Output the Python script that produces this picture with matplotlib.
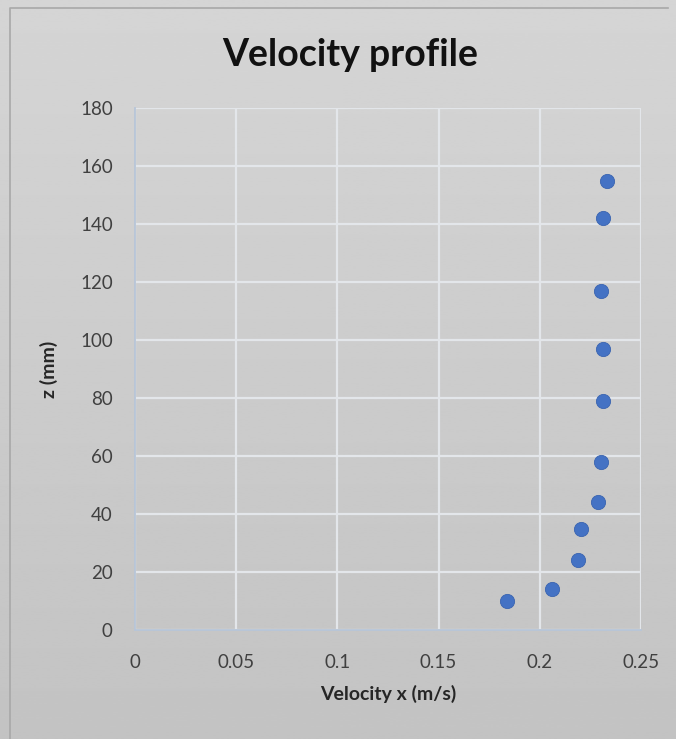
import matplotlib
matplotlib.use("Agg")
import matplotlib.pyplot as plt
import numpy as np

velocity = [0.184, 0.206, 0.219, 0.2205, 0.229, 0.230, 0.231, 0.231, 0.230, 0.231, 0.233]
z_mm = [10, 14, 24, 35, 44, 58, 79, 97, 117, 142, 155]

x_ticks = [0, 0.05, 0.1, 0.15, 0.2, 0.25]
x_labels = ["0", "0.05", "0.1", "0.15", "0.2", "0.25"]
y_ticks = [0, 20, 40, 60, 80, 100, 120, 140, 160, 180]

plt.rcParams["font.family"] = ["Lato", "DejaVu Sans"]

fig = plt.figure(figsize=(6.76, 7.39), dpi=100)

# gradient background
bg = fig.add_axes([0, 0, 1, 1], zorder=-10)
grad = np.linspace(0.835, 0.765, 256).reshape(-1, 1)
bg.imshow(grad, aspect="auto", cmap="gray", vmin=0, vmax=1, extent=[0, 1, 0, 1])
bg.plot([10 / 676, 10 / 676, 668 / 676], [0, 1 - 8 / 739, 1 - 8 / 739],
        color="#a8a8a8", lw=1.2)
bg.set_xlim(0, 1)
bg.set_ylim(0, 1)
bg.axis("off")

ax = fig.add_axes([135 / 676, 109 / 739, 506 / 676, 522 / 739])
ax.patch.set_alpha(0)

ax.scatter(velocity, z_mm, s=105, color="#4472C4", edgecolors="#3a64b0",
           linewidths=0.6, zorder=3)

ax.set_xlim(0, 0.25)
ax.set_ylim(0, 180)
ax.set_xticks(x_ticks)
ax.set_xticklabels(x_labels)
ax.set_yticks(y_ticks)
ax.grid(True, color="#e3e6ea", lw=1.6)
ax.set_axisbelow(True)

for s in ["top", "right"]:
    ax.spines[s].set_visible(False)
for s in ["left", "bottom"]:
    ax.spines[s].set_color("#b7c5d8")
    ax.spines[s].set_linewidth(1.3)

ax.tick_params(length=0, labelsize=13.5, colors="#404040", pad=17)
ax.tick_params(axis="y", pad=16)

ax.set_xlabel("Velocity x (m/s)", fontsize=14, fontweight="bold", color="#262626", labelpad=10)
ax.set_ylabel("z (mm)", fontsize=14, fontweight="bold", color="#262626", labelpad=16)

fig.text(350 / 676, 1 - 55 / 739, "Velocity profile", ha="center", va="center",
         fontsize=27, fontweight="bold", color="#111111")

fig.savefig("out.png", dpi=100)
